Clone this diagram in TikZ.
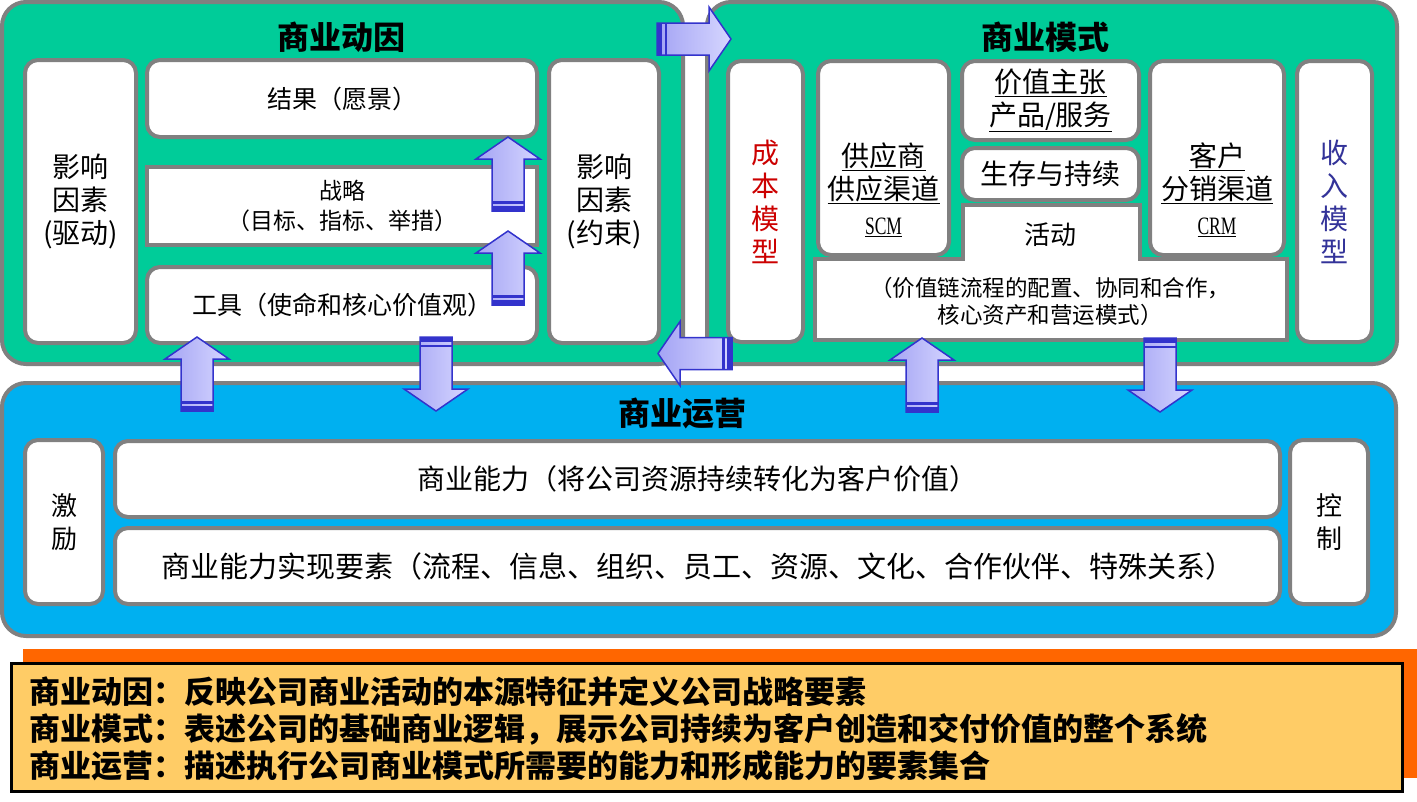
\documentclass[tikz,border=0pt]{standalone}
\usepackage{fontspec}
\setmainfont{Noto Sans CJK SC}
\newfontfamily\scmfont{Liberation Serif}[FakeStretch=0.7]
\usepackage{tikz}
\usetikzlibrary{positioning}
\definecolor{motivegreen}{HTML}{00CC99}
\definecolor{opsblue}{HTML}{00B0F0}
\definecolor{boxgray}{HTML}{808080}
\definecolor{notesorange}{HTML}{FF6600}
\definecolor{notesyellow}{HTML}{FFCC66}
\definecolor{costred}{HTML}{CC0000}
\definecolor{revblue}{HTML}{333399}
\definecolor{arrowedge}{HTML}{3333CC}
\definecolor{arrowdark}{HTML}{A4A4F4}
\definecolor{arrowlight}{HTML}{D6D6FF}

\newcommand{\setfs}[2]{\fontsize{#1}{#2}\selectfont}

\tikzset{
% frames and boxes
bigbox/.style={draw=boxgray, line width=4pt, rounded corners=24pt, inner sep=0pt},
inbox/.style={draw=boxgray, line width=4pt, fill=white, rounded corners=13pt, align=center, inner sep=0pt},
flatbox/.style={inbox, rounded corners=0pt},
headline/.style={font=\bfseries\setfs{32}{36}},
% block arrows
arrowbody/.style={draw=arrowedge, line width=1.5pt, left color=arrowdark, right color=arrowlight, line join=miter},
arrowband/.style={fill=arrowedge}
}

% block arrow: tail point, direction
\newcommand{\blockarrow}[2]{%
  \begin{scope}[shift={#1}, rotate=#2]
    \draw[arrowbody] (0,-16) -- (52,-16) -- (52,-32) -- (74,0) -- (52,32) -- (52,16) -- (0,16) -- cycle;
    \fill[arrowband] (0,-16) rectangle (5,16);
    \fill[arrowband] (7.5,-16) rectangle (10,16);
  \end{scope}}

\begin{document}
\begin{tikzpicture}[x=1pt, y=-1pt]
  \useasboundingbox (0,0) rectangle (1417,801);

  % the three frames
  \node[bigbox, fill=motivegreen, minimum width=681pt, minimum height=362pt] (motive) at (342.5,183) {};
  \node[bigbox, fill=motivegreen, minimum width=690pt, minimum height=362pt] (model) at (1052,183) {};
  \node[bigbox, fill=opsblue, minimum width=1394pt, minimum height=253pt] (ops) at (699,509.5) {};

  \node[headline] (motivetitle) at (341,37) {商业动因};
  \node[headline] (modeltitle) at (1045,37) {商业模式};
  \node[headline] (opstitle) at (682,413) {商业运营};

  % business motive
  \node[inbox, minimum width=111pt, minimum height=283pt, font=\setfs{28}{33}] (driverL) at (80.5,201.5) {影响\\因素\\(驱动)};
  \node[inbox, minimum width=390pt, minimum height=77pt, font=\setfs{25}{28}] (result) at (342,98.5) {结果（愿景）};
  \node[flatbox, minimum width=390pt, minimum height=78pt, font=\setfs{23}{30}] (strategy) at (342,206) {战略\\（目标、指标、举措）};
  \node[inbox, minimum width=390pt, minimum height=76pt, font=\setfs{25}{28}] (tool) at (342,305) {工具（使命和核心价值观）};
  \node[inbox, minimum width=110pt, minimum height=283pt, font=\setfs{28}{33}] (driverR) at (604,201.5) {影响\\因素\\(约束)};

  % business model
  \node[inbox, minimum width=75pt, minimum height=281pt, font=\setfs{28}{33}, text=costred] (cost) at (765.5,201.5) {成\\本\\模\\型};
  \node[inbox, minimum width=131pt, minimum height=194pt] (supplier) at (883.5,158) {};
  \node[font=\setfs{28}{33}, align=center] (suppliertxt) at (883.5,190) {\underline{供应商}\\\underline{供应渠道}\\[2pt]{\scmfont\setfs{25}{30}\underline{SCM}}};
  \node[inbox, minimum width=177pt, minimum height=79pt, font=\setfs{28}{33}] (value) at (1050.5,100.5) {\underline{价值主张}\\\underline{产品/服务}};
  \node[inbox, minimum width=177pt, minimum height=52pt, font=\setfs{28}{33}] (survive) at (1050.5,174) {生存与持续};
  \draw[draw=boxgray, line width=4pt, fill=white] (963,205) -- (1140,205) -- (1140,259) -- (1287,259) -- (1287,340) -- (815,340) -- (815,259) -- (963,259) -- cycle;
  \node[font=\setfs{26}{30}] (activity) at (1050,235) {活动};
  \node[font=\setfs{22.5}{27}, align=center] (valuechain) at (1050,301) {（价值链流程的配置、协同和合作，\\核心资产和营运模式）};
  \node[inbox, minimum width=134pt, minimum height=194pt] (customer) at (1217,158) {};
  \node[font=\setfs{28}{33}, align=center] (customertxt) at (1217,190) {\underline{客户}\\\underline{分销渠道}\\[2pt]{\scmfont\setfs{25}{30}\underline{CRM}}};
  \node[inbox, minimum width=75pt, minimum height=281pt, font=\setfs{28}{33}, text=revblue] (revenue) at (1334.5,201.5) {收\\入\\模\\型};

  % business operations
  \node[inbox, minimum width=78pt, minimum height=164pt, font=\setfs{26}{33}] (incentive) at (64,522) {激\\励};
  \node[inbox, minimum width=1165pt, minimum height=76pt, font=\setfs{28}{30}] (capability) at (697.5,479) {商业能力（将公司资源持续转化为客户价值）};
  \node[inbox, minimum width=1165pt, minimum height=76pt, font=\setfs{29}{30}] (elements) at (697.5,566) {商业能力实现要素（流程、信息、组织、员工、资源、文化、合作伙伴、特殊关系）};
  \node[inbox, minimum width=78pt, minimum height=164pt, font=\setfs{26}{33}] (control) at (1329,522) {控\\制};

  % notes
  \fill[notesorange] (23,649) rectangle (1417,778);
  \node[draw=black, line width=3pt, fill=notesyellow, minimum width=1391pt, minimum height=128pt] (notebox) at (706.5,727) {};
  \node[anchor=west, align=left, inner sep=0pt, font=\bfseries\setfs{31}{37}] (notes) at (29,729)
    {商业动因：反映公司商业活动的本源特征并定义公司战略要素\\
     商业模式：表述公司的基础商业逻辑，展示公司持续为客户创造和交付价值的整个系统\\
     商业运营：描述执行公司商业模式所需要的能力和形成能力的要素集合};

  % block arrows
  \blockarrow{(657,39)}{0}
  \blockarrow{(732,353.5)}{180}
  \blockarrow{(508,211)}{90}
  \blockarrow{(508,305)}{90}
  \blockarrow{(197,411)}{90}
  \blockarrow{(436,337)}{-90}
  \blockarrow{(922,412)}{90}
  \blockarrow{(1160,338)}{-90}
\end{tikzpicture}
\end{document}
